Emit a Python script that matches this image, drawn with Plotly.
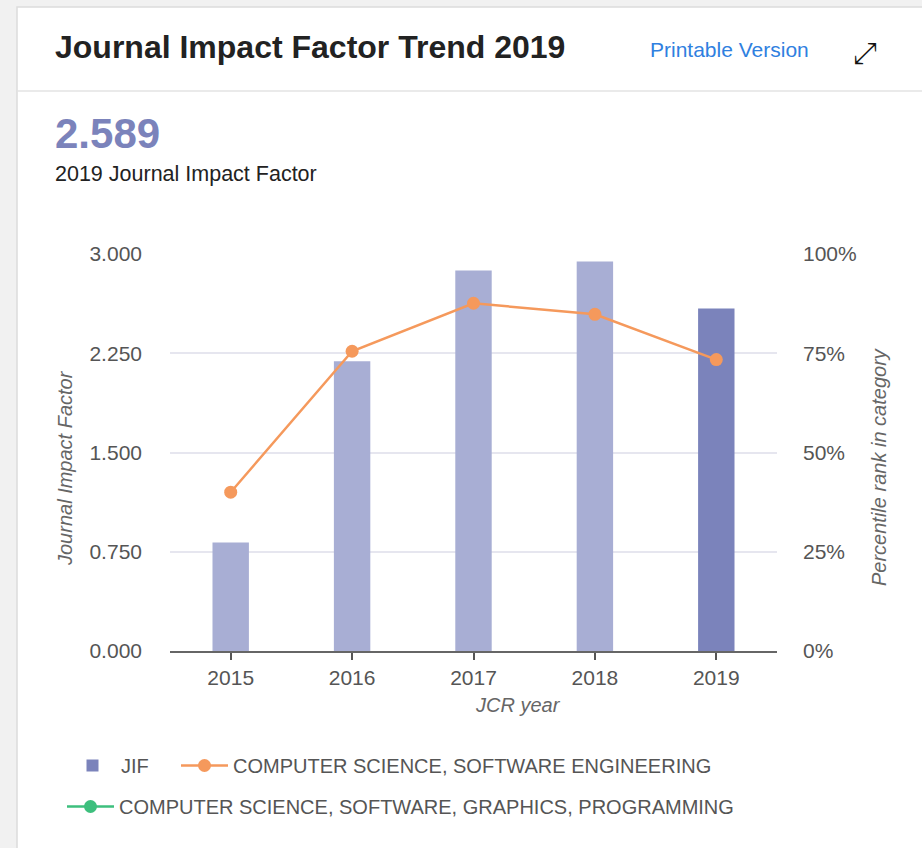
import plotly.graph_objects as go

years = ["2015", "2016", "2017", "2018", "2019"]
jif = [0.82, 2.19, 2.875, 2.943, 2.589]
pct_se = [40.0, 75.5, 87.6, 84.8, 73.4]
bar_colors = ["#a8aed4", "#a8aed4", "#a8aed4", "#a8aed4", "#7b83bb"]
y_ticks = [0, 0.75, 1.5, 2.25, 3.0]
y2_ticks = [0, 25, 50, 75, 100]
y2_labels = ["0%", "25%", "50%", "75%", "100%"]

W, H = 922, 848
L, R, T, B = 170, 777, 254, 651


def px(x):
    return (x - L) / (R - L)


def py(y):
    return (B - y) / (B - T)


FONT = "Liberation Sans, Arial, Helvetica, sans-serif"

fig = go.Figure()
fig.add_trace(go.Bar(
    x=years, y=jif, name="JIF", width=0.3, showlegend=False,
    marker=dict(color=bar_colors, line=dict(width=0)),
    yaxis="y",
))
fig.add_trace(go.Bar(
    x=years, y=[None] * len(years), name="JIF", showlegend=True,
    marker=dict(color="#7b83bb", line=dict(width=0)), yaxis="y", legend="legend",
))
fig.add_trace(go.Scatter(
    x=years, y=pct_se, name="COMPUTER SCIENCE, SOFTWARE ENGINEERING",
    mode="lines+markers", line=dict(color="#f5995c", width=2.5),
    marker=dict(size=13, color="#f5995c"), yaxis="y2", legend="legend2",
))
fig.add_trace(go.Scatter(
    x=years, y=[None] * len(years),
    name="COMPUTER SCIENCE, SOFTWARE, GRAPHICS, PROGRAMMING",
    mode="lines+markers", line=dict(color="#3dbf7d", width=2.5),
    marker=dict(size=13, color="#3dbf7d"), yaxis="y2", legend="legend3",
))

shapes = [
    dict(type="rect", xref="paper", yref="paper",
         x0=px(17), x1=px(930), y0=py(7), y1=py(860),
         fillcolor="white", line=dict(color="#dcdcdc", width=1.5), layer="below"),
    dict(type="line", xref="paper", yref="paper",
         x0=px(17), x1=px(930), y0=py(91), y1=py(91),
         line=dict(color="#e3e3e3", width=1.5), layer="below"),
]

ann = [
    dict(text="<b>Journal Impact Factor Trend 2019</b>", x=px(53), y=py(47),
         font=dict(size=32, color="#222222")),
    dict(text="Printable Version", x=px(648), y=py(50),
         font=dict(size=21, color="#2f80e0")),
    dict(text="⤢", x=px(851), y=py(53),
         font=dict(size=30, color="#111111", family="DejaVu Sans")),
    dict(text="<b>2.589</b>", x=px(53), y=py(133),
         font=dict(size=42, color="#7b83bb")),
    dict(text="2019 Journal Impact Factor", x=px(53), y=py(174),
         font=dict(size=21.5, color="#222222")),
    dict(text="<i>JCR year</i>", x=px(518), y=py(705), xanchor="center",
         font=dict(size=20, color="#666666")),
    dict(text="<i>Journal Impact Factor</i>", x=px(65), y=py(468), xanchor="center",
         textangle=-90, font=dict(size=20, color="#666666")),
    dict(text="<i>Percentile rank in category</i>", x=px(879), y=py(467), xanchor="center",
         textangle=-90, font=dict(size=20, color="#666666")),
]
for a in ann:
    a.setdefault("xanchor", "left")
    a.update(xref="paper", yref="paper", yanchor="middle", showarrow=False)

legend_common = dict(orientation="h", xanchor="left", yanchor="top",
                     font=dict(size=20, color="#555555"), bgcolor="rgba(0,0,0,0)",
                     itemwidth=47, tracegroupgap=0)

fig.update_layout(
    width=W, height=H,
    margin=dict(l=L, r=W - R, t=T, b=H - B),
    paper_bgcolor="#f1f1f1", plot_bgcolor="rgba(0,0,0,0)",
    font=dict(family=FONT, color="#555555"),
    shapes=shapes, annotations=ann,
    showlegend=True,
    legend=dict(x=px(64), y=py(746), **legend_common),
    legend2=dict(x=px(176), y=py(746), **legend_common),
    legend3=dict(x=px(62), y=py(787), **legend_common),
    bargap=0.7, barmode="overlay",
    xaxis=dict(type="category", range=[-0.5, 4.5], showline=True, linecolor="#666666",
               linewidth=2, ticks="outside", ticklen=7, tickwidth=2, tickcolor="#555555",
               tickfont=dict(size=21, color="#555555"), showgrid=False, fixedrange=True),
    yaxis=dict(range=[0, 3], tickvals=y_ticks, tickformat=".3f", showgrid=True,
               gridcolor="#e6e6ef", gridwidth=1.5, zeroline=False, ticks="",
               ticklabelstandoff=27, tickfont=dict(size=21, color="#555555"),
               fixedrange=True),
    yaxis2=dict(range=[0, 100], tickvals=y2_ticks, ticktext=y2_labels, overlaying="y",
                side="right", showgrid=False, zeroline=False, ticks="",
                ticklabelstandoff=25, tickfont=dict(size=21, color="#555555"),
                fixedrange=True),
)

fig.write_html("out.html", config={"displayModeBar": False},
               post_script="document.body.style.margin='0';")
